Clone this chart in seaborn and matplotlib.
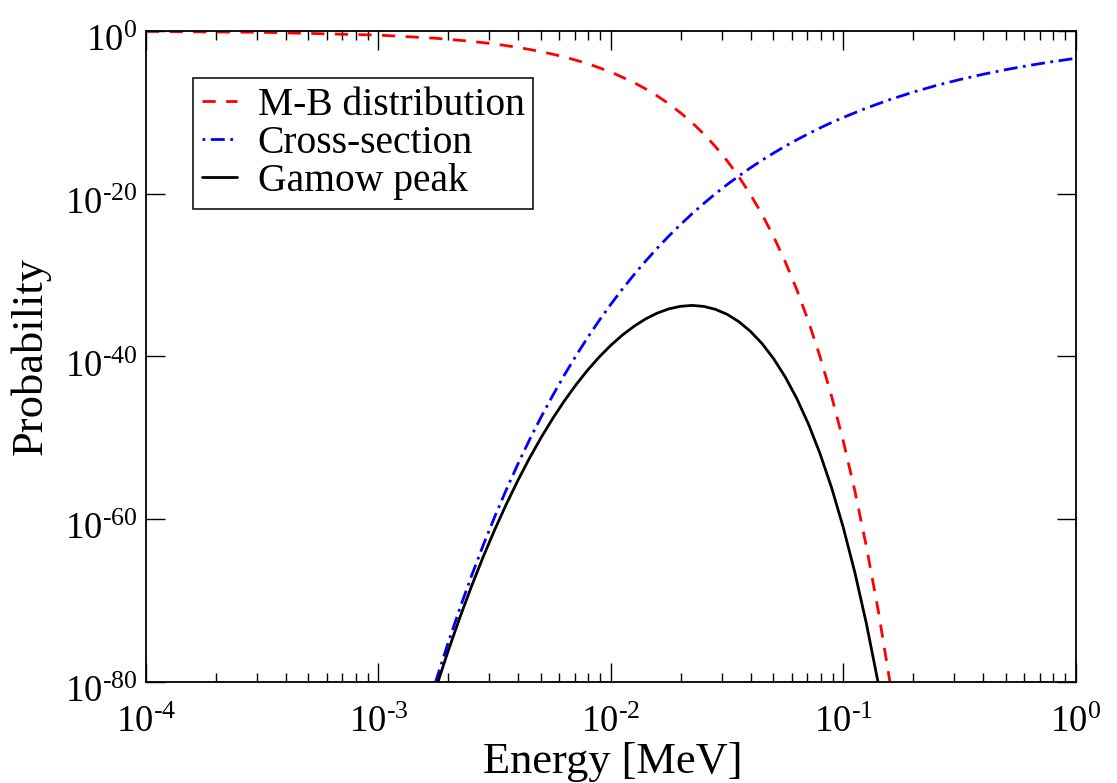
import matplotlib
matplotlib.use("Agg")
import numpy as np
import pandas as pd
import matplotlib.pyplot as plt
import matplotlib.transforms as mtransforms
import seaborn as sns
from matplotlib.ticker import FixedLocator, NullLocator, FixedFormatter, NullFormatter, LogLocator

# ---------------- data ----------------
# Maxwell-Boltzmann distribution (energy in MeV, log10 of probability)
mb_energy = [1.0e-4, 3.162e-4, 1.0e-3, 1.778e-3, 2.512e-3, 3.162e-3, 3.981e-3, 5.012e-3,
             6.310e-3, 7.943e-3, 1.0e-2, 1.259e-2, 1.413e-2, 1.585e-2, 1.778e-2, 1.995e-2,
             2.239e-2, 2.512e-2, 2.818e-2, 3.162e-2, 3.548e-2, 3.981e-2, 4.467e-2, 5.012e-2,
             5.623e-2, 6.310e-2, 7.080e-2, 7.943e-2, 8.913e-2, 0.1, 0.1122, 0.1259, 0.1413,
             0.1585, 0.1778]
mb_log10p = [-0.05, -0.16, -0.50, -0.90, -1.27, -1.59, -2.01, -2.53,
             -3.18, -4.00, -5.04, -6.35, -7.12, -7.99, -8.96, -10.06,
             -11.28, -12.66, -14.21, -15.94, -17.88, -20.07, -22.51, -25.26,
             -28.34, -31.80, -35.68, -40.03, -44.92, -50.40, -56.55, -63.45, -71.19,
             -79.88, -89.63]

# Cross-section (tunnelling probability)
cs_energy = [1.585e-3, 1.778e-3, 1.995e-3, 2.239e-3, 2.512e-3, 2.818e-3, 3.162e-3, 3.548e-3,
             3.981e-3, 4.467e-3, 5.012e-3, 5.623e-3, 6.310e-3, 7.080e-3, 7.943e-3, 8.913e-3,
             1.0e-2, 1.122e-2, 1.259e-2, 1.413e-2, 1.585e-2, 1.778e-2, 1.995e-2, 2.239e-2,
             2.512e-2, 2.818e-2, 3.162e-2, 3.548e-2, 3.981e-2, 4.467e-2, 5.012e-2, 5.623e-2,
             6.310e-2, 7.080e-2, 7.943e-2, 8.913e-2, 0.1, 0.1259, 0.1585, 0.1995, 0.2512,
             0.3162, 0.3981, 0.5012, 0.6310, 0.7943, 1.0]
cs_log10p = [-84.40, -79.68, -75.22, -71.01, -67.04, -63.29, -59.75, -56.41,
             -53.25, -50.27, -47.46, -44.81, -42.30, -39.93, -37.70, -35.59,
             -33.60, -31.72, -29.95, -28.27, -26.69, -25.20, -23.79, -22.46,
             -21.20, -20.01, -18.89, -17.84, -16.84, -15.90, -15.01, -14.17,
             -13.38, -12.63, -11.92, -11.25, -10.63, -9.47, -8.44, -7.52, -6.70,
             -5.98, -5.33, -4.75, -4.23, -3.77, -3.36]

# Gamow peak
gp_energy = [1.585e-3, 1.778e-3, 1.995e-3, 2.239e-3, 2.512e-3, 2.818e-3, 3.162e-3, 3.548e-3,
             3.981e-3, 4.467e-3, 5.012e-3, 5.623e-3, 6.310e-3, 7.080e-3, 7.943e-3, 8.913e-3,
             1.0e-2, 1.122e-2, 1.259e-2, 1.413e-2, 1.585e-2, 1.778e-2, 1.995e-2, 2.239e-2,
             2.512e-2, 2.818e-2, 3.162e-2, 3.548e-2, 3.981e-2, 4.467e-2, 5.012e-2, 5.623e-2,
             6.310e-2, 7.080e-2, 7.943e-2, 8.913e-2, 0.1, 0.1122, 0.1259, 0.1413, 0.1585]
gp_log10p = [-85.20, -80.58, -76.23, -72.14, -68.31, -64.71, -61.34, -58.20,
             -55.26, -52.52, -49.99, -47.64, -45.48, -43.50, -41.70, -40.08,
             -38.64, -37.38, -36.30, -35.39, -34.68, -34.16, -33.85, -33.74,
             -33.86, -34.22, -34.83, -35.72, -36.91, -38.41, -40.27, -42.51,
             -45.18, -48.31, -51.95, -56.17, -61.03, -66.58, -72.92, -80.13, -88.32]

series_labels = ["M-B distribution", "Cross-section", "Gamow peak"]
x_ticks = [1e-4, 1e-3, 1e-2, 1e-1, 1e0]
x_tick_labels = [r"$\mathregular{10^{\text{-4}}}$", r"$\mathregular{10^{\text{-3}}}$",
                 r"$\mathregular{10^{\text{-2}}}$", r"$\mathregular{10^{\text{-1}}}$",
                 r"$\mathregular{10^{0}}$"]
y_ticks = [1e-80, 1e-60, 1e-40, 1e-20, 1e0]
y_tick_labels = [r"$\mathregular{10^{\text{-80}}}$", r"$\mathregular{10^{\text{-60}}}$",
                 r"$\mathregular{10^{\text{-40}}}$", r"$\mathregular{10^{\text{-20}}}$",
                 r"$\mathregular{10^{0}}$"]

# ---------------- style ----------------
sns.set_theme(style="ticks")
plt.rcParams["font.family"] = ["Liberation Serif", "DejaVu Serif"]
plt.rcParams["mathtext.fontset"] = "custom"
plt.rcParams["mathtext.rm"] = "Liberation Serif"
plt.rcParams["mathtext.it"] = "Liberation Serif:italic"
plt.rcParams["mathtext.bf"] = "Liberation Serif:bold"
plt.rcParams["lines.scale_dashes"] = False
for key in ["text.color", "axes.labelcolor", "xtick.color", "ytick.color", "axes.edgecolor"]:
    plt.rcParams[key] = "black"

fig = plt.figure(figsize=(11.17, 7.83), dpi=100)
ax = fig.add_axes([0.1307, 0.1294, 0.8323, 0.8310])

frames = [
    pd.DataFrame({"energy": mb_energy, "prob": 10.0 ** np.array(mb_log10p)}),
    pd.DataFrame({"energy": cs_energy, "prob": 10.0 ** np.array(cs_log10p)}),
    pd.DataFrame({"energy": gp_energy, "prob": 10.0 ** np.array(gp_log10p)}),
]
colors = ["#ff0000", "#0000ff", "#000000"]
styles = [(0, (9.5, 7.5)), (14.0, (10.0, 4.0, 2.0, 4.0)), "-"]

for df, lab, col, ls in zip(frames, series_labels, colors, styles):
    sns.lineplot(data=df, x="energy", y="prob", ax=ax, color=col, linewidth=2.0,
                 linestyle=ls, label=lab, estimator=None, sort=False)

ax.set_xscale("log")
ax.set_yscale("log")
ax.set_xlim(1e-4, 1e0)
ax.set_ylim(1e-80, 1e0)

ax.xaxis.set_major_locator(FixedLocator(x_ticks))
ax.xaxis.set_major_formatter(FixedFormatter(x_tick_labels))
ax.xaxis.set_minor_locator(LogLocator(base=10, subs=np.arange(2, 10), numticks=100))
ax.xaxis.set_minor_formatter(NullFormatter())
ax.yaxis.set_major_locator(FixedLocator(y_ticks))
ax.yaxis.set_major_formatter(FixedFormatter(y_tick_labels))
ax.yaxis.set_minor_locator(NullLocator())

ax.tick_params(which="both", direction="in", top=True, right=True, colors="black")
ax.tick_params(which="major", length=13.5, width=1.0, labelsize=26.5)
ax.tick_params(which="minor", length=6.5, width=1.0)
ax.tick_params(axis="x", which="major", pad=17)
ax.tick_params(axis="y", which="major", pad=6.5)

# shift y tick labels slightly down (the "10" sits below the tick in the reference)
offset = mtransforms.ScaledTranslation(0, -7 / 100.0, fig.dpi_scale_trans)
for lab in ax.get_yticklabels():
    lab.set_transform(lab.get_transform() + offset)

for sp in ax.spines.values():
    sp.set_visible(True)
    sp.set_linewidth(1.3)
    sp.set_color("black")

ax.set_xlabel("Energy [MeV]", fontsize=32)
ax.set_ylabel("Probability", fontsize=32)
ax.xaxis.set_label_coords(0.502, -0.092)
ax.yaxis.set_label_coords(-0.103, 0.5)

leg = ax.legend(loc="upper left", bbox_to_anchor=(0.0506, 0.9278), borderaxespad=0,
                frameon=True, fancybox=False, shadow=False, edgecolor="black",
                framealpha=1.0, fontsize=28.5, handlelength=0.88, handletextpad=0.53,
                labelspacing=0.03, borderpad=0.22)
leg.get_frame().set_linewidth(1.1)

fig.savefig("out.png", dpi=100)
